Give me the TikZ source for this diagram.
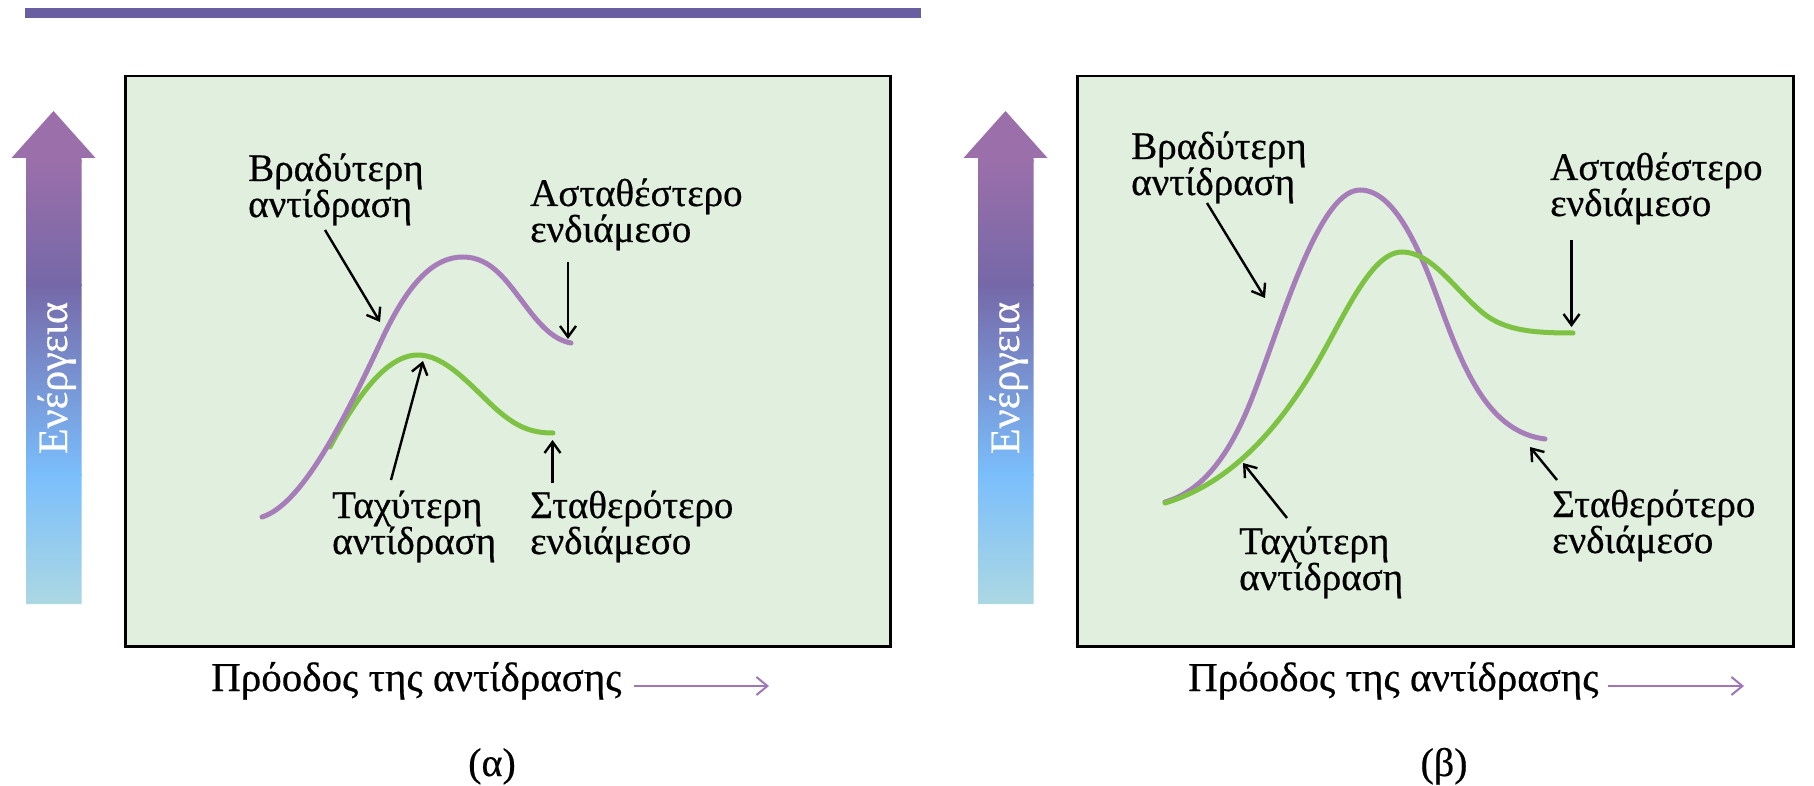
\documentclass[tikz,border=0pt]{standalone}
\usepackage{fontspec}
\setmainfont{Liberation Serif}[FakeBold=0.5]
\usetikzlibrary{arrows.meta}

\definecolor{panelgreen}{RGB}{224,239,222}
\definecolor{barblue}{RGB}{106,94,162}
\definecolor{slowcurve}{RGB}{166,125,184}
\definecolor{fastcurve}{RGB}{125,194,66}
\definecolor{axisarrow}{RGB}{160,118,182}
\definecolor{enTop}{RGB}{154,111,170}
\definecolor{enMid}{RGB}{118,104,168}
\definecolor{enBlue}{RGB}{122,190,252}
\definecolor{enBottom}{RGB}{172,216,226}

% shaded energy arrow, drawn at a horizontal offset
\newcommand{\energyarrow}[1]{%
  \begin{scope}[xshift=#1]
    \path[clip] (26,604) -- (26,158) -- (11.5,158) -- (53.5,111) -- (95.5,158)
      -- (81.5,158) -- (81.5,604) -- cycle;
    \fill[enTop] (0,100) rectangle (110,162);
    \shade[top color=enTop, bottom color=enMid] (0,161) rectangle (110,285);
    \shade[top color=enMid, bottom color=enBlue] (0,284) rectangle (110,475);
    \shade[top color=enBlue, bottom color=enBottom] (0,474) rectangle (110,605);
  \end{scope}}

\begin{document}
\begin{tikzpicture}[x=1pt,y=-1pt,
  lbl/.style={font=\fontsize{39}{36}\selectfont, align=left, anchor=base west, inner sep=0pt},
  axislbl/.style={font=\fontsize{41}{36}\selectfont, anchor=base west, inner sep=0pt},
  plain/.style={font=\fontsize{40}{36}\selectfont, inner sep=0pt},
  panel/.style={fill=panelgreen, draw=black, line width=2.5pt},
  pointer/.style={draw=black, line width=2.4pt, -{Straight Barb[length=11pt,width=16pt,line width=2.4pt]}},
  progress/.style={draw=axisarrow, line width=2pt, -{Straight Barb[length=11pt,width=18pt,line width=2pt]}},
  slowline/.style={draw=slowcurve, line width=5pt, line cap=round},
  fastline/.style={draw=fastcurve, line width=5pt, line cap=round},
  energytext/.style={font=\fontsize{42}{36}\selectfont, text=white, rotate=90, anchor=base, inner sep=0pt}
]
\useasboundingbox (0,0) rectangle (1814,786);

% header rule
\fill[barblue] (25,8) rectangle (921,18);

% ---------------- panel (a) ----------------
\energyarrow{0pt}
\node[energytext] (en-a) at (67,378) {Ενέργεια};
\node[panel, minimum width=765pt, minimum height=570pt, anchor=north west] (panel-a) at (124,75) {};

\draw[fastline] (330,447) .. controls (355,400) and (385,355) .. (418,355)
  .. controls (445,355) and (470,385) .. (495,408)
  .. controls (515,426) and (530,433) .. (553,433);
\draw[slowline] (262,517) .. controls (300,505) and (340,430) .. (383,337)
  .. controls (410,280) and (435,257) .. (463,257)
  .. controls (492,257) and (508,283) .. (525,305)
  .. controls (542,328) and (555,340) .. (571,343);

\node[lbl] (slow-a) at (248,217) {Βραδύτερη\\αντίδραση};
\node[lbl] (unstable-a) at (530,242) {Ασταθέστερο\\ενδιάμεσο};
\node[lbl] (fast-a) at (332,554) {Ταχύτερη\\αντίδραση};
\node[lbl] (stable-a) at (530,554) {Σταθερότερο\\ενδιάμεσο};

\coordinate (slow-a-tail) at (325,230);   \coordinate (slow-a-tip) at (380,322);
\coordinate (unst-a-tail) at (568,262);   \coordinate (unst-a-tip) at (568,339);
\coordinate (fast-a-tail) at (391,480);   \coordinate (fast-a-tip) at (423,361);
\coordinate (stab-a-tail) at (552.5,483); \coordinate (stab-a-tip) at (552.5,440);
\draw[pointer] (slow-a-tail) -- (slow-a-tip);
\draw[pointer] (unst-a-tail) -- (unst-a-tip);
\draw[pointer] (fast-a-tail) -- (fast-a-tip);
\draw[pointer] (stab-a-tail) -- (stab-a-tip);

\node[axislbl] (prog-a) at (211,691) {Πρόοδος της αντίδρασης};
\coordinate (prog-a-start) at (634,686); \coordinate (prog-a-end) at (769,686);
\draw[progress] (prog-a-start) -- (prog-a-end);
\node[plain, anchor=base] (cap-a) at (492,776) {(α)};

% ---------------- panel (b) ----------------
\energyarrow{952pt}
\node[energytext] (en-b) at (1019,378) {Ενέργεια};
\node[panel, minimum width=716pt, minimum height=570pt, anchor=north west] (panel-b) at (1076,75) {};

\draw[slowline] (1165,502) .. controls (1200,492) and (1225,460) .. (1245,415)
  .. controls (1275,347) and (1315,190) .. (1360,190)
  .. controls (1395,190) and (1420,250) .. (1440,305)
  .. controls (1465,374) and (1490,432) .. (1545,439);
\draw[fastline] (1165,503) .. controls (1215,488) and (1265,450) .. (1313,370)
  .. controls (1343,320) and (1370,252) .. (1402,252)
  .. controls (1432,252) and (1455,290) .. (1483,313)
  .. controls (1505,331) and (1535,333) .. (1573,333);

\node[lbl] (slow-b) at (1131,195) {Βραδύτερη\\αντίδραση};
\node[lbl] (unstable-b) at (1550,216) {Ασταθέστερο\\ενδιάμεσο};
\node[lbl] (fast-b) at (1239,590) {Ταχύτερη\\αντίδραση};
\node[lbl] (stable-b) at (1552,553) {Σταθερότερο\\ενδιάμεσο};

\coordinate (slow-b-tail) at (1207,203);  \coordinate (slow-b-tip) at (1265,298);
\coordinate (unst-b-tail) at (1571.5,240); \coordinate (unst-b-tip) at (1571.5,327);
\coordinate (fast-b-tail) at (1287,518);  \coordinate (fast-b-tip) at (1243,463);
\coordinate (stab-b-tail) at (1557,480);  \coordinate (stab-b-tip) at (1530,447);
\draw[pointer] (slow-b-tail) -- (slow-b-tip);
\draw[pointer] (unst-b-tail) -- (unst-b-tip);
\draw[pointer] (fast-b-tail) -- (fast-b-tip);
\draw[pointer] (stab-b-tail) -- (stab-b-tip);

\node[axislbl] (prog-b) at (1188,691) {Πρόοδος της αντίδρασης};
\coordinate (prog-b-start) at (1608,686); \coordinate (prog-b-end) at (1744,686);
\draw[progress] (prog-b-start) -- (prog-b-end);
\node[plain, anchor=base] (cap-b) at (1444,776) {(β)};
\end{tikzpicture}
\end{document}
